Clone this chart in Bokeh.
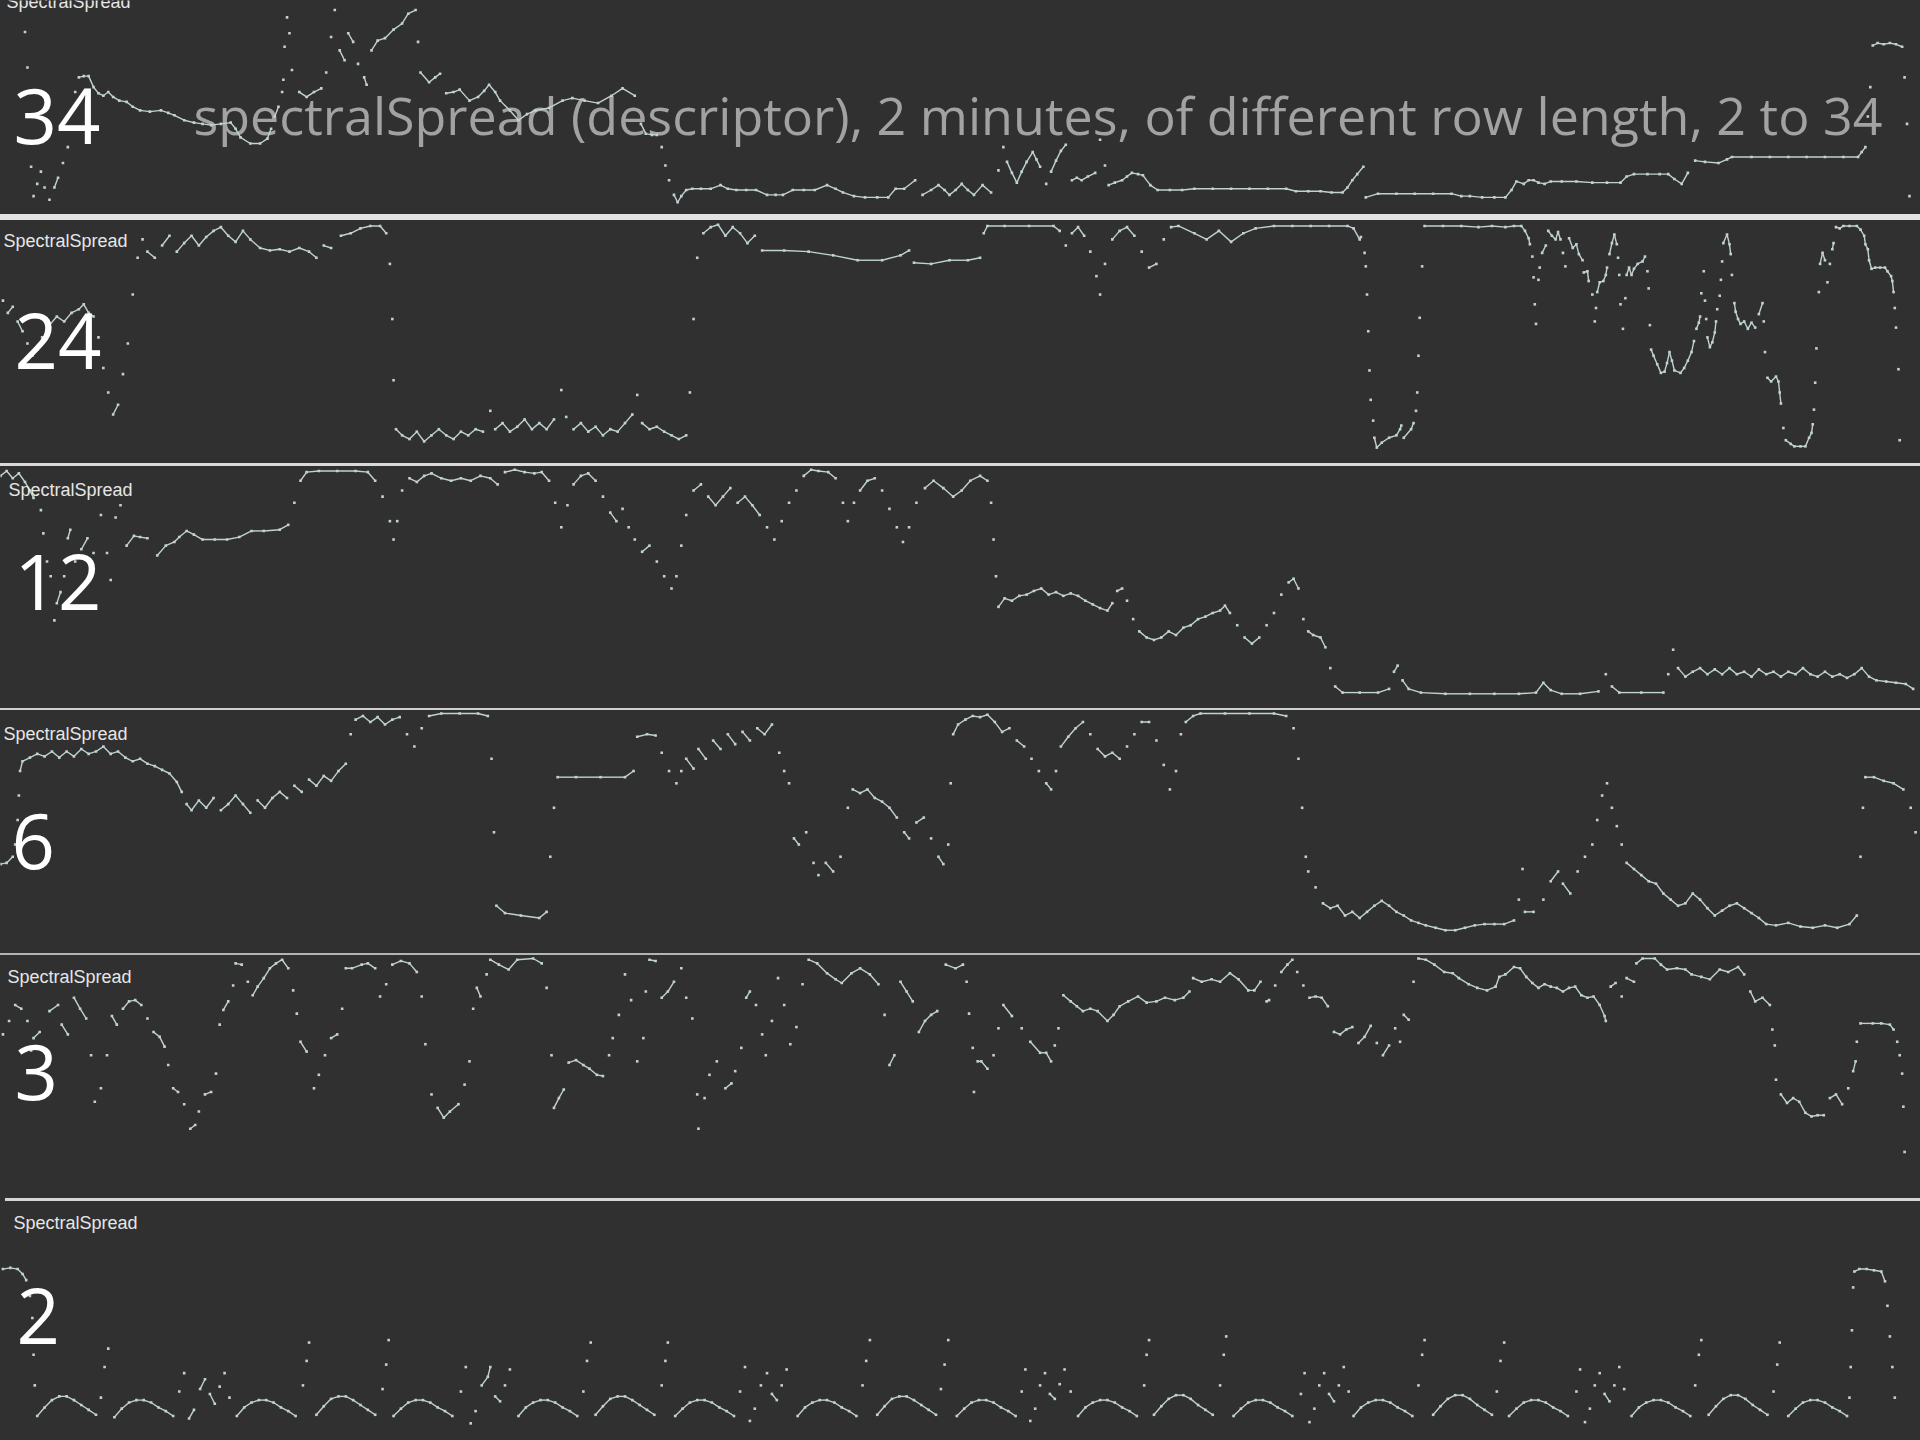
import numpy as np
from bokeh.plotting import figure
from bokeh.models import Range1d, Label, Spacer
from bokeh.layouts import column, row
from bokeh.embed import file_html
from bokeh.resources import INLINE

# ---------------- data: (frame, spread) pairs ----------------
ROW_LENGTHS = ["34", "24", "12", "6", "3", "2"]
SERIES_NAME = "SpectralSpread"
TITLE = "spectralSpread (descriptor), 2 minutes, of different row length, 2 to 34"

P34 = [(20,149),(22,120),(24,60),(25,39),(27,15),(30,25),(33,35),(36,22),(40,12),(44,22),(47,30),(51,42),(55,55),(58,85),(61,100),(64,112),(68,113),(72,113),(76,104),(80,99),(84,97),(88,100),(92,96),(97,93),(103,92),(108,88),(114,85),(122,84),(131,85),(137,83),(142,81),(150,77),(158,75),(165,74),(172,73),(180,74),(188,75),(192,70),(196,63),(204,58),(212,58),(218,62),(221,70),(224,80),(227,88),(230,100),(231,110),(232,137),(234,161),(236,148),(238,118),(244,100),(250,96),(256,100),(262,103),(266,116),(270,145),(273,167),(277,134),(281,126),(284,148),(288,141),(292,123),(297,112),(299,106),(303,134),(308,142),(314,144),(321,151),(328,156),(333,164),(339,167),(341,141),(343,116),
       (350,108),(355,112),(359,115),(364,99),(370,100),(375,102),(383,93),(390,96),(395,101),(399,106),(404,100),(408,93),(416,85),(423,77),(430,82),(437,85),(448,87),(459,93),(467,95),(477,93),(488,91),(499,97),(508,103),(518,97),(523,74),(527,66),(532,65),(536,65),(540,55),(543,40),(546,28),(550,16),(553,10),(556,15),(560,20),(565,21),(572,21),(580,21),(588,24),(594,21),(601,20),(609,20),(617,20),(626,16),(633,16),(639,16),(647,20),(656,20),(665,20),(675,24),(682,21),(688,18),(697,15),(706,14),(716,14),(725,14),(731,21),(738,21),(747,28),(753,16),(760,20),(766,24),(771,20),(775,16),(780,20),(785,25),(790,20),(795,16),(802,24),(809,18),(815,36),(819,55),(822,43),(826,34),(830,26),(834,35),(838,43),(843,51),(846,45),(849,39),(854,25),(858,35),(862,44),(866,52),(870,57),(875,28),(879,30),(883,28),(888,31),(894,34),(898,61),(902,40),(905,24),(910,26),(916,28),(920,31),(924,34),(929,33),(933,32),(939,24),(945,20),(955,20),(965,20),(975,21),(990,21),(1005,21),(1020,21),(1035,21),(1050,21),(1058,19),(1068,19),(1078,19),(1087,18),(1096,18),(1100,22),(1104,28),(1108,33),(1113,39),(1115,14),(1125,17),(1140,17),(1155,17),(1170,17),(1185,17),(1193,15),(1200,15),(1210,14),(1220,14),(1229,14),(1234,20),(1238,27),(1244,25),(1248,28),(1252,28),(1256,26),(1261,25),(1266,27),(1275,27),(1287,27),(1300,26),(1312,26),(1323,26),(1328,31),(1334,33),(1345,33),(1355,33),(1362,33),(1367,29),(1373,25),(1378,34),(1384,44),(1392,43),(1403,42),(1410,45),(1414,47),(1430,47),(1445,47),(1460,47),(1475,47),(1490,47),(1505,47),(1517,47),(1520,51),(1523,55),(1525,80),(1527,104),(1529,138),(1533,140),(1538,139),(1543,140),(1548,139),(1553,137),(1555,112),(1557,74),(1559,15)]

P24 = [(2,133),(6,123),(10,128),(14,116),(18,108),(22,98),(26,88),(30,93),(34,103),(40,113),(46,120),(52,116),(58,123),(64,126),(68,130),(72,123),(76,120),(80,103),(84,78),(88,58),(92,40),(96,48),(100,73),(104,98),(108,138),(112,168),(116,183),(120,173),(126,168),(132,178),(138,186),(144,173),(150,180),(156,186),(162,178),(168,185),(174,190),(180,193),(186,186),(192,181),(198,190),(204,183),(212,176),(220,174),(228,175),(236,173),(244,176),(252,173),(258,168),(264,178),(270,176),(278,186),(286,188),(294,192),(302,194),(310,194),(315,188),(318,163),(320,118),(321,68),(323,28),(328,23),(334,20),(340,26),(346,18),(352,23),(358,28),(364,23),(370,20),(376,26),(382,23),(388,28),(394,26),(400,43),(404,28),(410,33),(416,26),(422,30),(428,36),(434,28),(440,33),(446,28),(452,36),(458,60),(462,38),(468,28),(474,33),(480,26),(486,30),(492,23),(498,28),(504,26),(510,33),(516,40),(520,56),(524,33),(530,28),(536,30),(542,26),(548,23),(554,20),(560,23),(563,58),(566,118),(569,168),(574,188),(580,193),(586,195),(592,186),(598,193),(604,188),(610,180),(616,186),(622,174),(640,174),(660,173),(680,170),(700,166),(720,166),(735,170),(742,174),(746,164),(760,163),(775,166),(790,166),(800,168),(803,188),(806,194),(820,194),(840,194),(860,194),(865,190),(870,178),(875,188),(880,193),(885,186),(890,173),(895,153),(898,138),(902,163),(908,183),(914,190),(920,193),(926,186),(932,173),(938,160),(944,163),(950,183),(956,193),(962,194),(975,188),(985,183),(995,190),(1005,181),(1015,188),(1025,192),(1040,194),(1055,194),(1070,194),(1085,194),(1100,194),(1105,192),(1110,183),
       (1111,185),(1114,172),(1115,161),(1116,138),(1117,108),(1118,76),(1119,52),(1121,35),(1122,21),(1124,13),(1128,17),(1134,21),(1140,23),(1143,28),(1144,31),(1146,21),(1152,28),(1154,33),(1156,43),(1157,58),(1158,88),(1159,119),(1161,161),(1163,194),(1178,194),(1193,194),(1207,193),(1218,194),(1229,193),(1236,194),(1242,194),(1245,190),(1248,184),(1249,179),(1251,169),(1252,152),(1253,130),(1254,114),(1256,150),(1257,160),(1259,172),(1262,178),(1264,190),(1267,186),(1270,183),(1272,189),(1274,183),(1276,172),(1278,161),(1281,184),(1284,176),(1287,179),(1289,171),(1292,166),(1293,156),(1296,157),(1297,149),(1300,138),(1302,116),(1303,127),(1304,140),(1306,148),(1309,149),(1311,154),(1312,160),(1314,171),(1316,180),(1318,187),(1320,179),(1321,168),(1322,154),(1323,130),(1325,110),(1327,135),(1328,154),(1330,160),(1332,154),(1334,159),(1337,163),(1341,165),(1343,169),(1345,157),(1346,143),(1347,113),(1348,93),(1350,88),(1353,81),(1356,74),(1359,75),(1361,82),(1363,91),(1365,84),(1367,76),(1372,74),(1375,78),(1378,84),(1381,91),(1383,100),(1385,110),(1387,115),(1388,120),(1389,139),(1391,157),(1392,133),(1393,118),(1394,103),(1396,95),(1398,99),(1400,107),(1401,116),(1402,126),(1404,137),(1405,150),(1406,165),(1407,180),(1410,187),(1412,179),(1413,171),(1414,154),(1416,131),(1417,124),(1419,118),(1421,114),(1424,116),(1427,110),(1430,115),(1433,111),(1436,122),(1439,131),(1440,116),(1441,91),(1443,70),(1446,67),(1450,71),(1452,67),(1453,58),(1454,49),(1456,29),(1458,19),(1462,16),(1465,14),(1470,14),(1474,14),(1477,21),(1479,25),(1480,32),(1481,44),(1482,66),(1483,94),(1485,140),(1486,163),(1488,172),(1490,166),(1492,148),(1494,163),(1496,175),(1497,180),(1499,193),(1502,192),(1505,194),(1510,194),(1516,194),(1519,191),(1522,186),(1523,179),(1525,175),(1526,166),(1528,159),(1531,160),(1535,160),(1539,160),(1541,157),(1544,153),(1545,149),(1546,140),(1547,127),(1548,111),(1550,77),(1551,19)]

P12 = [(0,190),(5,194),(10,188),(15,192),(20,185),(24,178),(27,172),(33,162),(35,143),(38,120),(41,108),(44,72),(46,86),(49,95),(52,108),(55,139),(57,146),(61,120),(66,130),(71,139),(76,127),(82,158),(87,127),(90,105),(94,156),(98,166),(103,133),(109,141),(114,140),(120,139),(128,125),(135,133),(142,136),(146,140),(152,145),(158,142),(165,138),(175,138),(185,138),(195,140),(205,145),(215,145),(228,146),(235,150),(240,168),(245,186),(250,193),(260,194),(275,194),(290,194),(300,193),(306,186),(312,173),(318,153),(321,138),(324,153),(328,178),(334,188),(340,185),(346,190),(352,192),(360,188),(368,186),(376,188),(384,186),(392,190),(400,188),(406,183),(412,193),(420,195),(428,193),(436,192),(442,193),(448,186),(453,168),(458,148),(463,166),(468,183),(474,190),(480,192),(486,186),(492,173),(498,160),(503,153),(508,163),(513,148),(518,138),(524,128),(530,133),(536,120),(542,108),(548,98),(552,108),(556,133),(560,158),(566,178),(572,183),(578,173),(584,166),(590,173),(596,180),(602,168),(608,173),(614,166),(620,158),(626,148),(632,138),(638,153),(644,168),(650,178),(656,190),(662,195),(668,194),(676,193),(682,188),(688,168),(692,153),(697,168),(702,178),(708,186),(714,188),(720,178),(726,163),(732,148),(737,136),(742,148),(748,168),(755,180),(762,186),(770,180),(778,173),(785,178),(792,186),(800,190),(806,186),(809,168),(811,138),(813,108),(815,83),(820,90),(826,88),(832,92),(838,93),(844,96),(850,98),(856,93),(862,95),(868,92),(874,94),(880,92),(886,88),(892,85),(898,82),(904,80),(908,86),(912,96),(916,98),(920,88),(925,73),(930,63),(936,58),(942,56),(948,58),(954,63),(960,60),(966,66),(972,68),(978,73),(984,75),(990,78),(996,80),(1000,84),(1004,78),(1010,68),(1016,58),(1022,53),(1028,58),(1034,68),(1040,78),(1046,93),(1052,103),(1056,106),(1060,98),(1064,73),(1068,63),(1072,60),(1078,58),(1082,50),(1086,33),(1090,18),(1096,13),(1110,13),(1125,13),(1134,16),(1138,30),(1141,35),(1145,23),(1150,16),(1160,13),(1180,12),(1200,12),(1220,12),(1240,12),(1254,13),(1260,21),(1266,15),(1275,12),(1290,12),(1305,14),(1311,28),(1316,18),(1322,13),(1340,13),(1358,13),(1362,28),(1366,48),(1370,33),(1376,26),(1382,30),(1388,33),(1394,28),(1400,32),(1406,28),(1412,33),(1418,28),(1424,30),(1430,26),(1436,32),(1442,28),(1448,30),(1454,26),(1460,30),(1466,28),(1472,33),(1478,28),(1484,26),(1490,30),(1496,26),(1502,28),(1508,25),(1514,28),(1520,33),(1526,26),(1532,23),(1540,22),(1548,21),(1556,20),(1562,16)]

P6 = [(0,73),(5,74),(10,79),(12,89),(14,109),(15,129),(16,149),(18,157),(24,160),(30,163),(36,161),(42,165),(48,160),(54,165),(60,161),(66,167),(72,163),(78,165),(84,169),(90,163),(96,165),(102,160),(108,157),(114,159),(120,155),(126,153),(132,150),(138,147),(144,140),(148,132),(152,122),(156,117),(162,125),(168,119),(174,127),(180,117),(186,122),(192,129),(198,122),(204,115),(210,125),(216,119),(222,127),(228,132),(234,127),(240,137),(246,132),(252,142),(258,137),(264,145),(270,141),(276,149),(282,155),(286,179),(290,191),(296,194),(302,189),(308,193),(314,187),(320,191),(326,193),(332,179),(338,169),(344,184),(350,194),(360,196),(375,196),(390,196),(398,194),(401,159),(403,99),(405,39),(412,33),(425,31),(440,29),(446,34),(449,79),(452,119),(455,144),(470,144),(490,144),(510,144),(517,149),(520,177),(528,179),(535,178),(540,164),(546,149),(552,139),(556,149),(560,159),(566,151),(570,167),(576,159),(582,174),(588,167),(594,179),(600,171),(606,181),(612,174),(618,184),(624,179),(630,187),(636,164),(640,149),(644,139),(648,94),(652,89),(658,99),(664,74),(668,64),(674,74),(680,67),(686,79),(692,119),(696,134),(702,131),(708,134),(714,127),(720,124),(726,119),(732,111),(738,99),(742,94),(748,107),(754,111),(760,94),(766,79),(770,73),(774,89),(776,139),(778,179),(782,187),(788,191),(794,194),(800,193),(806,195),(812,189),(818,181),(824,184),(830,174),(836,169),(842,159),(848,149),(854,139),(858,134),(862,149),(866,169),(872,177),(878,184),(884,189),(890,179),(896,167),(902,161),(908,164),(914,159),(920,169),(926,179),(932,189),(938,189),(944,174),(950,154),(955,134),(960,149),(964,179),(968,189),(974,194),(980,196),(1000,196),(1020,196),(1040,196),(1050,194),(1056,184),(1060,159),(1063,119),(1066,79),(1068,67),(1074,54),(1080,41),(1086,37),(1092,39),(1098,31),(1104,34),(1110,29),(1116,34),(1122,39),(1128,43),(1134,39),(1140,34),(1146,31),(1152,27),(1158,25),(1164,23),(1172,21),(1180,19),(1188,19),(1196,21),(1204,23),(1212,24),(1220,24),(1228,24),(1236,27),(1240,44),(1243,69),(1245,34),(1252,34),(1260,44),(1266,59),(1272,67),(1276,57),(1282,49),(1288,67),(1294,79),(1300,89),(1304,109),(1308,129),(1312,139),(1316,119),(1320,104),(1324,89),(1328,74),(1334,69),(1340,64),(1346,59),(1352,57),(1358,49),(1364,44),(1370,39),(1376,41),(1382,49),(1388,44),(1394,37),(1400,31),(1406,35),(1412,39),(1418,41),(1424,37),(1430,33),(1436,29),(1442,24),(1450,23),(1460,25),(1470,22),(1480,21),(1490,23),(1500,21),(1510,24),(1516,31),(1519,79),(1521,119),(1523,144),(1530,144),(1538,141),(1546,139),(1554,134),(1560,119),(1564,99)]

P3 = [(2,134),(7,145),(12,158),(17,155),(22,145),(25,121),(27,131),(32,136),(40,153),(47,158),(50,142),(55,134),(60,164),(65,155),(70,147),(74,117),(77,79),(82,90),(87,117),(91,149),(95,142),(100,155),(105,161),(110,162),(115,158),(120,147),(125,136),(130,132),(134,124),(137,109),(141,90),(145,87),(150,77),(155,57),(159,60),(162,71),(167,85),(172,87),(176,102),(179,142),(182,154),(186,161),(190,174),(192,192),(197,191),(202,177),(206,166),(210,173),(215,180),(220,188),(225,192),(230,195),(235,188),(239,170),(242,151),(245,128),(250,120),(256,90),(260,101),(265,117),(270,131),(275,134),(279,155),(282,188),(287,188),(295,191),(300,192),(306,188),(310,165),(315,175),(320,191),(327,194),(334,192),(340,185),(344,165),(347,126),(352,85),(357,74),(362,66),(367,71),(374,77),(379,93),(383,112),(386,155),(389,172),(392,165),(397,183),(400,195),(407,191),(415,187),(422,195),(435,196),(442,192),(446,172),(450,117),(452,74),(456,82),(460,89),(464,111),(470,113),(476,109),(481,106),(487,101),(492,100),(497,117),(500,131),(505,150),(510,183),(515,162),(520,112),(525,131),(527,169),(530,195),(535,194),(540,164),(545,169),(550,177),(556,188),(560,164),(565,147),(569,85),(570,57),(575,82),(579,101),(585,112),(592,90),(597,94),(600,104),(605,123),(609,164),(612,169),(617,158),(622,134),(625,117),(630,145),(635,180),(640,158),(645,126),(650,140),(655,175),(660,195),(667,192),(675,184),(682,179),(687,176),(695,184),(702,188),(710,183),(717,175),(722,150),(726,109),(730,117),(735,177),(740,169),(745,161),(750,136),(755,145),(760,150),(765,153),(772,191),(780,188),
      (786,191),(789,177),(791,151),(794,123),(795,87),(798,112),(801,112),(806,106),(811,117),(815,139),(819,158),(826,149),(834,139),(841,128),(849,119),(854,119),(858,112),(861,125),(864,139),(868,166),(874,161),(879,157),(884,153),(890,155),(896,153),(904,145),(909,150),(914,157),(921,161),(929,165),(936,160),(944,161),(951,164),(959,162),(966,164),(971,169),(974,180),(981,177),(989,179),(996,177),(1004,184),(1011,179),(1019,170),(1024,170),(1029,177),(1034,161),(1036,162),(1041,174),(1046,185),(1051,191),(1055,195),(1059,185),(1064,174),(1069,164),(1074,165),(1079,164),(1084,157),(1089,136),(1094,134),(1099,138),(1104,140),(1109,127),(1114,132),(1119,141),(1124,127),(1129,117),(1134,125),(1139,139),(1143,128),(1146,150),(1150,146),(1154,177),(1158,196),(1164,195),(1171,191),(1179,185),(1186,184),(1191,180),(1199,175),(1206,172),(1214,170),(1221,173),(1224,181),(1229,183),(1236,189),(1241,188),(1246,181),(1251,176),(1256,172),(1261,175),(1266,173),(1271,172),(1276,169),(1281,172),(1286,173),(1291,166),(1296,164),(1301,165),(1306,158),(1310,149),(1311,145),(1315,173),(1319,176),(1324,165),(1328,180),(1334,177),(1336,192),(1341,196),(1351,196),(1356,191),(1361,187),(1369,188),(1376,187),(1381,183),(1389,181),(1396,179),(1404,187),(1411,185),(1419,189),(1424,183),(1429,169),(1433,161),(1439,164),(1445,158),(1447,138),(1449,125),(1450,97),(1454,85),(1459,78),(1464,82),(1469,79),(1474,70),(1479,67),(1484,68),(1489,68),(1494,82),(1499,85),(1504,77),(1509,90),(1513,104),(1515,112),(1516,128),(1519,143),(1529,143),(1536,143),(1543,142),(1546,138),(1549,128),(1551,117),(1553,102),(1554,75),(1555,38)]

P2 = [(2,140),(8,141),(14,140),(18,136),(21,131),(24,118),(26,100),(27,70),(28,45),
      (30,20),(36,27),(42,33),(48,36),(54,36),(60,33),(66,29),(72,25),(78,21),(82,35),(85,60),(88,75),
      (93,19),(99,26),(105,31),(111,33),(117,33),(123,31),(129,27),(135,24),(141,20),
      (146,40),(150,55),(154,18),(158,25),(163,42),(167,50),(171,38),(175,30),(179,44),(183,55),(187,35),
      (193,20),(199,27),(205,31),(211,33),(217,33),(223,31),(229,27),(235,24),(241,20),(247,45),(250,65),(252,80),
      (258,21),(264,28),(270,34),(276,36),(282,36),(288,33),(294,29),(300,25),(306,21),(312,42),(315,62),(317,82),
      (321,20),(327,26),(333,31),(339,33),(345,33),(351,31),(357,27),(363,24),(369,20),
      (376,40),(380,60),(384,14),(388,24),(393,45),(398,52),(400,60),(404,36),(408,32),(412,45),(416,58),
      (423,20),(429,27),(435,31),(441,33),(447,33),(453,31),(459,27),(465,24),(471,20),(476,40),(479,65),(482,80),
      (486,21),(492,28),(498,34),(504,36),(510,36),(516,33),(522,29),(528,25),(534,21),(540,45),(543,65),(545,80),
      (551,20),(557,26),(563,31),(569,33),(575,33),(581,31),(587,27),(593,24),(599,20),
      (604,40),(608,60),(612,16),(616,26),(621,45),(626,55),(630,38),(634,33),(638,45),(642,58),
      (651,20),(657,27),(663,31),(669,33),(675,33),(681,31),(687,27),(693,24),(699,20),(704,45),(707,65),(710,82),
      (716,21),(722,28),(728,34),(734,36),(740,36),(746,33),(752,29),(758,25),(764,21),(768,42),(771,62),(774,82),
      (781,20),(787,26),(793,31),(799,33),(805,33),(811,31),(817,27),(823,24),(829,20),
      (834,40),(837,58),(841,16),(845,26),(849,45),(853,55),(857,38),(861,34),(865,46),(869,58),(874,40),
      (880,20),(886,27),(892,31),(898,33),(904,33),(910,31),(916,27),(922,24),(928,20),(934,45),(936,70),(938,82),
      (942,21),(948,28),(954,34),(960,37),(966,37),(972,34),(978,29),(984,25),(990,21),(996,45),(999,70),(1001,85),
      (1007,20),(1013,26),(1019,31),(1025,33),(1031,33),(1037,31),(1043,27),(1049,24),(1055,20),
      (1062,38),(1065,55),(1069,15),(1073,26),(1077,45),(1081,55),(1085,38),(1089,32),(1093,45),(1097,60),(1101,40),
      (1105,20),(1111,27),(1117,31),(1123,33),(1129,33),(1135,31),(1141,27),(1147,24),(1153,20),(1158,45),(1161,70),(1163,82),
      (1170,21),(1176,28),(1182,34),(1188,37),(1194,37),(1200,34),(1206,29),(1212,25),(1218,21),(1222,40),(1225,65),(1228,80),
      (1232,20),(1238,26),(1244,31),(1250,33),(1256,33),(1262,31),(1268,27),(1274,24),(1280,20),
      (1287,40),(1290,58),(1294,15),(1298,26),(1302,45),(1306,55),(1310,38),(1314,32),(1318,45),(1322,60),(1326,42),
      (1332,20),(1338,27),(1344,31),(1350,33),(1356,33),(1362,31),(1368,27),(1374,24),(1380,20),(1384,45),(1387,70),(1389,82),
      (1395,21),(1401,28),(1407,34),(1413,37),(1419,37),(1425,34),(1431,29),(1437,25),(1443,21),(1448,40),(1451,62),(1453,80),
      (1460,20),(1466,26),(1472,31),(1478,33),(1484,33),(1490,31),(1496,27),(1502,24),(1508,20),
      (1510,35),(1511,60),(1512,90),(1513,125),(1514,138),(1518,140),(1524,140),(1530,139),(1536,138),(1539,130),(1541,110),(1543,85),(1545,60),(1547,35)]

SERIES = [P34, P24, P12, P6, P3, P2]

# ---------------- style / layout ----------------
W = 1920
FRAMES = 1568
S = W / FRAMES
BG = "#303030"
TRACE = "#c0d2d2"
PANEL_H = [214, 243, 242, 243, 243, 239]
SEP = [(6, "#e2e2e2"), (3, "#d9d9d9"), (2, "#d0d0d0"), (2, "#b4b4b4"), (3, "#d6d6d6")]
# label positions in px: (series-name x, centre from top), (row-length x, centre from top)
LAB_POS = [((6, 1), (13, 115)), ((3, 20), (14, 120)), ((8, 23), (14, 115)),
           ((3, 23), (11, 130)), ((7, 21), (14, 116)), ((13, 21), (16, 114))]


def make_panel(data, h, idx):
    p = figure(width=W, height=h, x_range=Range1d(0, FRAMES), y_range=Range1d(0, h / S),
               x_axis_type=None, y_axis_type=None, output_backend="svg",
               toolbar_location=None, min_border=0,
               background_fill_color=BG, border_fill_color=BG, outline_line_color=None)
    p.grid.visible = False
    t = np.array([d[0] for d in data], dtype=float)
    v = np.array([d[1] for d in data], dtype=float)
    dt = np.diff(t)
    dv = np.abs(np.diff(v))
    m = (dv <= 9) & (dt <= 25)
    p.segment(t[:-1][m], v[:-1][m], t[1:][m], v[1:][m], line_color=TRACE, line_width=1.4)
    p.scatter(t, v, marker="square", size=2.6, fill_color=TRACE, line_color=None)

    (lx, lc), (nx, nc) = LAB_POS[idx]
    p.add_layout(Label(x=lx, y=h - lc, x_units="screen", y_units="screen", text=SERIES_NAME,
                       text_font="Liberation Sans", text_font_size="18px",
                       text_color="#e6e6e6", text_baseline="middle"))
    p.add_layout(Label(x=nx, y=h - nc, x_units="screen", y_units="screen", text=ROW_LENGTHS[idx],
                       text_font="Open Sans", text_font_size="76px",
                       text_color="#ffffff", text_baseline="middle"))
    if idx == 0:
        p.add_layout(Label(x=193, y=h - 114, x_units="screen", y_units="screen", text=TITLE,
                           text_font="Open Sans", text_font_size="52px", level="underlay",
                           text_color="#a2a2a2", text_baseline="middle"))
    return p


children = []
for i, (data, h) in enumerate(zip(SERIES, PANEL_H)):
    children.append(make_panel(data, h, i))
    if i < len(SEP):
        sh, sc = SEP[i]
        if i == 4:
            children.append(row(Spacer(width=5, height=sh, styles={"background-color": BG}),
                                Spacer(width=W - 5, height=sh, styles={"background-color": sc}),
                                spacing=0))
        else:
            children.append(Spacer(width=W, height=sh, styles={"background-color": sc}))

layout = column(children, spacing=0)

html = file_html(layout, INLINE)
html = html.replace("</head>", "<style>html,body{margin:0;padding:0;background:#303030;overflow:hidden;}</style></head>", 1)
open("out.html", "w").write(html)
